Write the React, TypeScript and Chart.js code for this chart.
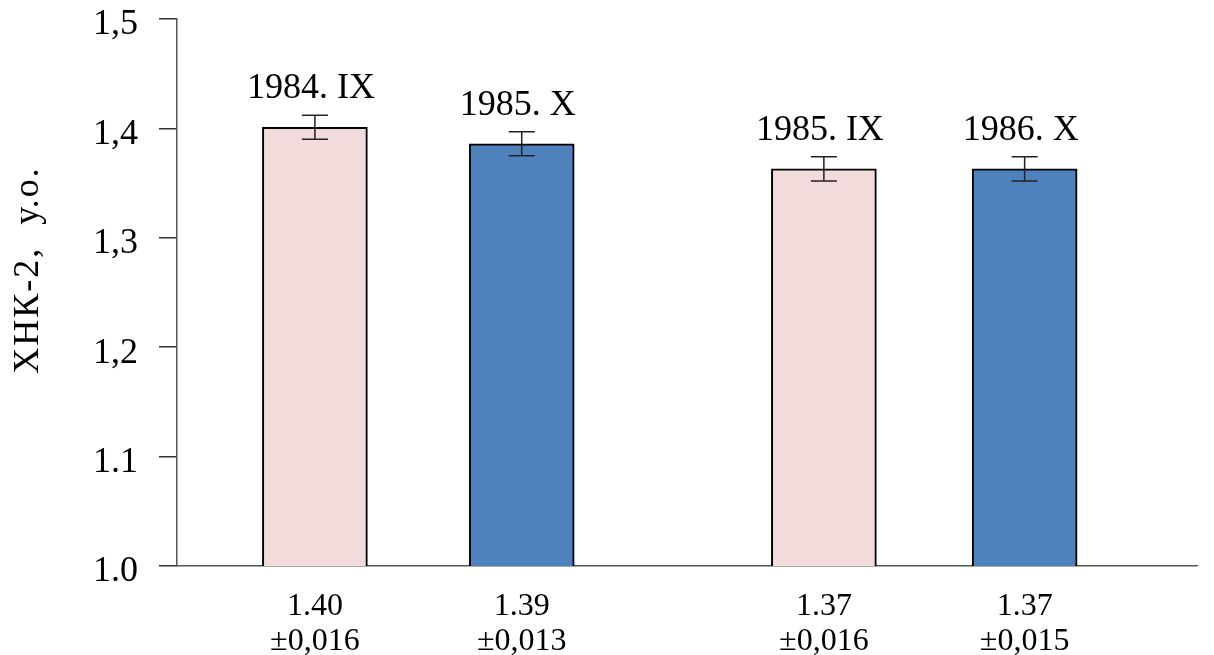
import React, { useEffect, useRef } from "react";
import { Chart, registerables } from "chart.js";

Chart.register(...registerables);

const xPositions = [0, 1.02, 2.51, 3.5];
const values = [1.401, 1.386, 1.363, 1.363];
const errors = [0.011, 0.011, 0.011, 0.011];
const barLabels = ["1984. IX", "1985. X", "1985. IX", "1986. X"];
const bottomLabels = [
  ["1.40", "±0,016"],
  ["1.39", "±0,013"],
  ["1.37", "±0,016"],
  ["1.37", "±0,015"],
];
const barColors = ["#F2DCDB", "#4F81BD", "#F2DCDB", "#4F81BD"];
const yTickLabels: Record<string, string> = {
  "1.5": "1,5",
  "1.4": "1,4",
  "1.3": "1,3",
  "1.2": "1,2",
  "1.1": "1.1",
  "1": "1.0",
};
const yTitle = "ХНК-2,  у.о.";

const FONT = "'Liberation Serif', 'DejaVu Serif', serif";

const overlayPlugin = {
  id: "overlay",
  afterDatasetsDraw(chart: any) {
    const ctx = chart.ctx;
    const meta = chart.getDatasetMeta(0);
    const yScale = chart.scales.y;
    ctx.save();
    // error bars
    ctx.strokeStyle = "#222";
    ctx.lineWidth = 1.5;
    meta.data.forEach((bar: any, i: number) => {
      const x = bar.x;
      const yTop = yScale.getPixelForValue(values[i] + errors[i]);
      const yBot = yScale.getPixelForValue(values[i] - errors[i]);
      ctx.beginPath();
      ctx.moveTo(x, yTop);
      ctx.lineTo(x, yBot);
      ctx.moveTo(x - 13, yTop);
      ctx.lineTo(x + 13, yTop);
      ctx.moveTo(x - 13, yBot);
      ctx.lineTo(x + 13, yBot);
      ctx.stroke();
    });
    // labels above bars
    ctx.fillStyle = "#000";
    ctx.font = `36px ${FONT}`;
    ctx.textAlign = "center";
    ctx.textBaseline = "alphabetic";
    meta.data.forEach((bar: any, i: number) => {
      ctx.fillText(barLabels[i], bar.x - 4, bar.y - 29);
    });
    // y title
    ctx.translate(38, 270);
    ctx.rotate(-Math.PI / 2);
    try {
      (ctx as any).letterSpacing = "2px";
    } catch (e) {}
    ctx.textAlign = "center";
    ctx.textBaseline = "alphabetic";
    ctx.fillText(yTitle, 0, 0);
    ctx.restore();
  },
};

export default function App() {
  const canvasRef = useRef<HTMLCanvasElement | null>(null);

  useEffect(() => {
    if (!canvasRef.current) return;
    const chart = new Chart(canvasRef.current, {
      type: "bar",
      data: {
        datasets: [
          {
            data: xPositions.map((x, i) => ({ x, y: values[i] })),
            backgroundColor: barColors,
            borderColor: "#000",
            borderWidth: 2,
            barThickness: 105,
          } as any,
        ],
      },
      plugins: [overlayPlugin],
      options: {
        animation: false,
        responsive: true,
        maintainAspectRatio: false,
        layout: { padding: { top: 19, right: 17, left: 0, bottom: 0 } },
        plugins: {
          legend: { display: false },
          tooltip: { enabled: false },
        },
        scales: {
          x: {
            type: "linear",
            min: -0.68,
            max: 4.35,
            offset: false,
            grid: { display: false },
            border: { display: true, color: "#555", width: 1.5 },
            afterBuildTicks: (axis: any) => {
              axis.ticks = xPositions.map((v) => ({ value: v }));
            },
            afterFit: (scale: any) => {
              scale.height = 89;
              scale.paddingLeft = 0;
              scale.paddingRight = 0;
            },
            ticks: {
              autoSkip: false,
              maxRotation: 0,
              padding: 15,
              color: "#000",
              font: { family: FONT, size: 32, lineHeight: 1.1 },
              callback: (_v: any, i: number) => bottomLabels[i],
            },
          },
          y: {
            min: 1.0,
            max: 1.5,
            grid: {
              drawOnChartArea: false,
              drawTicks: true,
              tickLength: 18,
              color: "#333",
              lineWidth: 1.5,
            },
            border: { display: true, color: "#555", width: 1.5 },
            afterFit: (scale: any) => {
              scale.width = 177;
              scale.paddingTop = 0;
              scale.paddingBottom = 0;
            },
            ticks: {
              stepSize: 0.1,
              padding: 21,
              labelOffset: 6,
              color: "#000",
              font: { family: FONT, size: 36 },
              callback: (v: any) => yTickLabels[String(Math.round(Number(v) * 10) / 10)] ?? "",
            },
          },
        },
      } as any,
    });
    return () => chart.destroy();
  }, []);

  return (
    <div style={{ position: "fixed", left: 0, top: 0, width: 1214, height: 655, background: "#fff" }}>
      <canvas ref={canvasRef} />
    </div>
  );
}
